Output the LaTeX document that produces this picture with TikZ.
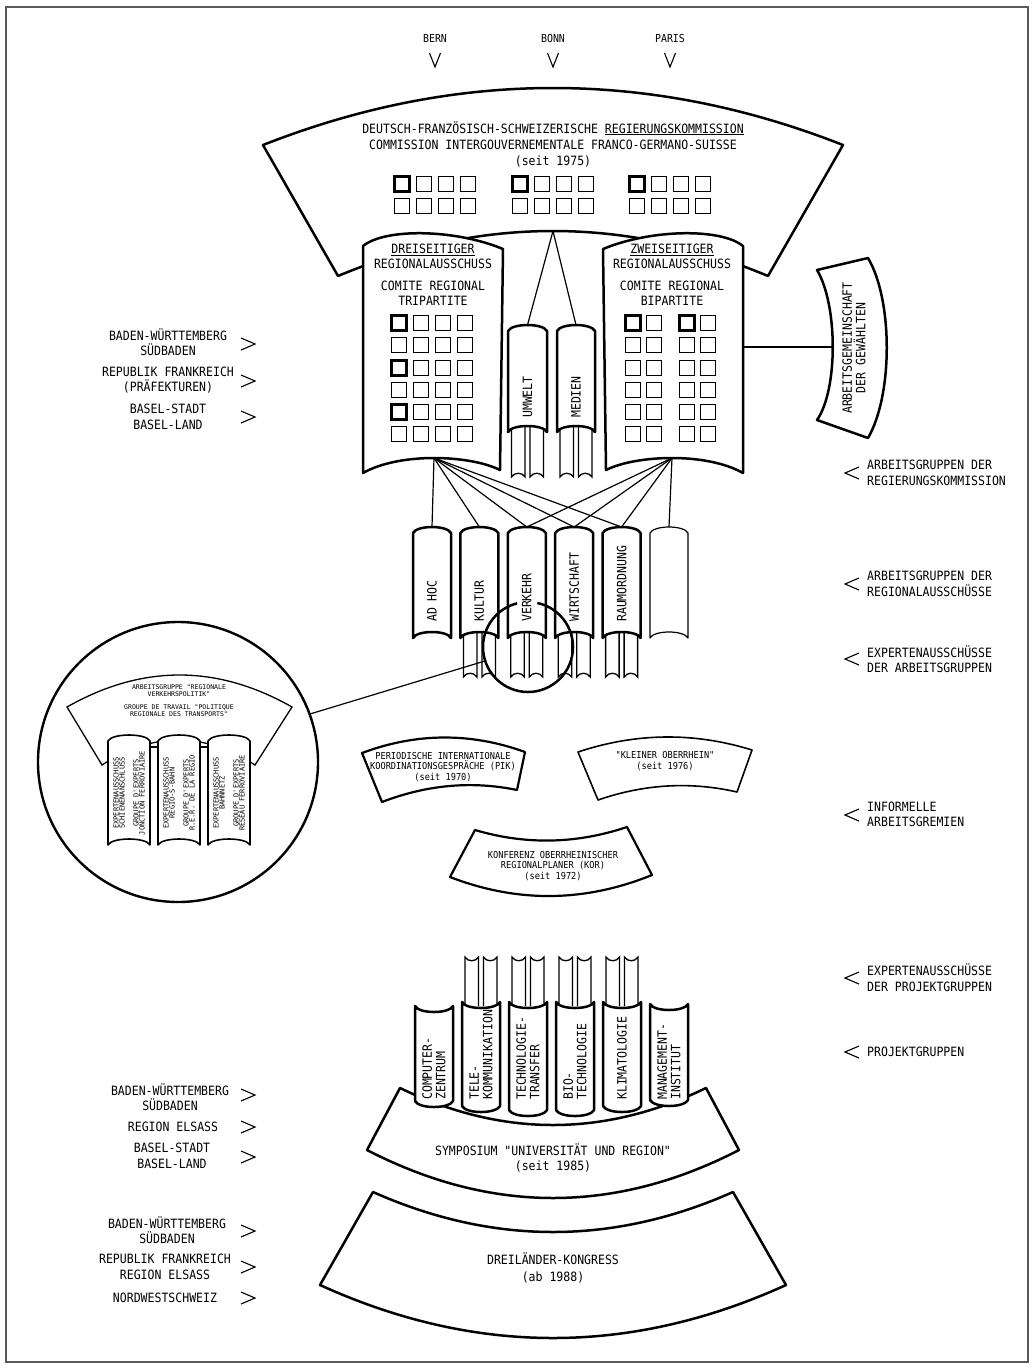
\documentclass[tikz,border=0pt]{standalone}
\usepackage{fontspec}
\newfontfamily\lab[FakeStretch=0.9]{DejaVu Sans Mono}
\newfontfamily\labw{DejaVu Sans Mono}
\newcommand\arcto[5]{.. controls ({#1+(#3-#1)/3},{#2+(#4-#2)/3-4*(#5)/3}) and ({#1+2*(#3-#1)/3},{#2+2*(#4-#2)/3-4*(#5)/3}) .. (#3,#4)}
\newcommand\pillar[5][]{\draw[pil,#1] (#2,{#4+6}) .. controls ({#2+4},{#4-2}) and ({#3-4},{#4-2}) .. (#3,{#4+6}) -- (#3,#5) .. controls ({#3-4},{#5-8}) and ({#2+4},{#5-8}) .. (#2,#5) -- cycle;}
\newcommand\pillarb[5][]{\draw[pil,#1] (#2,#4) .. controls ({#2+4},{#4+8}) and ({#3-4},{#4+8}) .. (#3,#4) -- (#3,#5) .. controls ({#3-4},{#5+8}) and ({#2+4},{#5+8}) .. (#2,#5) -- cycle;}
\newcommand\legd[4]{\draw[leg] (#1,#3) -- (#1,#4) .. controls ({#1+3},{#4-5}) and ({#2-3},{#4-5}) .. (#2,#4) -- (#2,#3);}
\newcommand\legu[4]{\draw[leg] (#1,#4) -- (#1,#3) .. controls ({#1+3},{#3+5}) and ({#2-3},{#3+5}) .. (#2,#3) -- (#2,#4);}
\newcommand\legdpair[3]{\legd{#1-16}{#1-2.5}{#2}{#3}\legd{#1+2.5}{#1+16}{#2}{#3}}
\newcommand\legupair[3]{\legu{#1-16}{#1-2.5}{#2}{#3}\legu{#1+2.5}{#1+16}{#2}{#3}}
\newcommand\sq[3][sqn]{\draw[#1] ({#2-7.5},{#3-7.5}) rectangle ({#2+7.5},{#3+7.5});}
\newcommand\markgt[2]{\draw[mk] ({#1-7},{#2-6}) -- ({#1+7},#2) -- ({#1-7},{#2+6});}
\newcommand\marklt[2]{\draw[mk] ({#1+7},{#2-6}) -- ({#1-7},#2) -- ({#1+7},{#2+6});}
\newcommand\markv[2]{\draw[mk] ({#1-5.5},#2) -- (#1,{#2+14}) -- ({#1+5.5},#2);}
\tikzset{
 fanst/.style={draw=black, fill=white, line width=2.5pt, line join=round},
 pil/.style={draw=black, fill=white, line width=2.5pt, line join=round},
 leg/.style={draw=black, line width=1.3pt},
 conn/.style={draw=black, line width=1.2pt},
 sqn/.style={draw=black, line width=1.2pt},
 sqb/.style={draw=black, line width=2.8pt},
 mk/.style={draw=black, line width=1.1pt},
 lab/.style={font={\lab\fontsize{12.8}{15.5}\selectfont}, inner sep=0pt, align=center},
 labm/.style={font={\lab\fontsize{11}{13}\selectfont}, inner sep=0pt, align=center},
 labs/.style={font={\lab\fontsize{9.6}{10.5}\selectfont}, inner sep=0pt, align=center},
 labt/.style={font={\labw\fontsize{6.5}{7}\selectfont}, inner sep=0pt, align=center},
 labp/.style={font={\labw\fontsize{7}{6}\selectfont}, inner sep=0pt, align=center},
 rot/.style={rotate=90, anchor=west, align=left}
}
\begin{document}
\begin{tikzpicture}[x=1pt,y=-1pt]
\useasboundingbox (0,0) rectangle (1035,1369);
\draw[draw=black!65, line width=1.4pt] (6,7) rectangle (1028,1362);

% cities
\node[labm] (bern) at (435,38) {BERN};
\node[labm] (bonn) at (553,38) {BONN};
\node[labm] (paris) at (670,38) {PARIS};
\markv{435}{53}\markv{553}{53}\markv{670}{53}

% Regierungskommission
\draw[fanst] (263,145) \arcto{263}{145}{843}{145}{57} -- (768,276) \arcto{768}{276}{338}{276}{45} -- cycle;
\node[lab, font={\lab\fontsize{12.8}{16}\selectfont}] (komm) at (553,144) {DEUTSCH-FRANZÖSISCH-SCHWEIZERISCHE \underline{REGIERUNGSKOMMISSION}\\COMMISSION INTERGOUVERNEMENTALE FRANCO-GERMANO-SUISSE\\(seit 1975)};
\foreach \gx in {402,520,637} {
  \foreach \i in {0,1,2,3} { \sq{\gx+22*\i}{184} \sq{\gx+22*\i}{206} }
  \sq[sqb]{\gx}{184}
}
\coordinate (kommB) at (553,231);
\coordinate (umT) at (527.5,325);
\coordinate (meT) at (576,325);
\draw[conn] (kommB) -- (umT);
\draw[conn] (kommB) -- (meT);
\legdpair{527.5}{425}{477}
\legdpair{576}{425}{477}
\pillar{508}{547}{325}{432}
\pillar{557}{595}{325}{432}
\node[lab, rot] (umwelt) at (527.5,418) {UMWELT};
\node[lab, rot] (medien) at (576,418) {MEDIEN};

% regional committees
\draw[fanst] (363,246) .. controls (385,228) and (455,229) .. (503,249) -- (500,470) .. controls (470,455) and (400,452) .. (363,473) -- cycle;
\draw[fanst] (743,246) .. controls (721,228) and (651,229) .. (603,249) -- (606,470) .. controls (636,455) and (706,452) .. (743,473) -- cycle;
\node[lab] (dreiA) at (433,256.5) {\underline{DREISEITIGER}\\REGIONALAUSSCHUSS};
\node[lab] (dreiB) at (433,293) {COMITE REGIONAL\\TRIPARTITE};
\node[lab] (zweiA) at (672,256.5) {\underline{ZWEISEITIGER}\\REGIONALAUSSCHUSS};
\node[lab] (zweiB) at (672,293) {COMITE REGIONAL\\BIPARTITE};
\foreach \y in {323,345,368,390,412,434} {
  \foreach \x in {399,421,443,465} { \sq{\x}{\y} }
  \foreach \x in {633,654,687,708} { \sq{\x}{\y} }
}
\sq[sqb]{399}{323}\sq[sqb]{399}{368}\sq[sqb]{399}{412}
\sq[sqb]{633}{323}\sq[sqb]{687}{323}

% Arbeitsgemeinschaft der Gewaehlten
\coordinate (zweiR) at (743,347);
\coordinate (agL) at (833,347);
\draw[conn] (zweiR) -- (agL);
\draw[fanst] (817,270) -- (868,258) .. controls (893,300) and (893,395) .. (868,438) -- (817,420) .. controls (838,390) and (838,305) .. (817,270) -- cycle;
\node[lab, rotate=90, font={\lab\fontsize{12.8}{13.5}\selectfont}] (ag) at (854,348) {ARBEITSGEMEINSCHAFT\\DER GEWÄHLTEN};

% working groups
\coordinate (dreiB0) at (434,458);
\coordinate (zweiB0) at (672,458);
\foreach \i/\c in {1/432,2/479.4,3/526.8,4/574.2,5/621.6,6/669} { \coordinate (wg\i) at (\c,527); }
\foreach \i in {1,...,5} { \draw[conn] (dreiB0) -- (wg\i); }
\foreach \i in {3,...,6} { \draw[conn] (zweiB0) -- (wg\i); }
\legdpair{479.4}{630}{677}
\legdpair{526.8}{630}{677}
\legdpair{574.2}{630}{677}
\legdpair{621.6}{630}{677}
\pillar{413}{451}{527}{638}
\pillar{460.4}{498.4}{527}{638}
\pillar{507.8}{545.8}{527}{638}
\pillar{555.2}{593.2}{527}{638}
\pillar{602.6}{640.6}{527}{638}
\pillar[line width=1.2pt]{650}{688}{527}{638}
\node[lab, rot] (adhoc) at (432,622) {AD HOC};
\node[lab, rot] (kultur) at (479.4,622) {KULTUR};
\node[lab, rot] (verkehr) at (526.8,622) {VERKEHR};
\node[lab, rot] (wirtschaft) at (574.2,622) {WIRTSCHAFT};
\node[lab, rot] (raum) at (621.6,622) {RAUMORDNUNG};

% magnifier
\draw[line width=2.5pt] ([shift={(528,647)}]-78:45) arc[start angle=-78, end angle=256, radius=45];
\coordinate (lensL) at ([shift={(528,647)}]162:45);
\coordinate (zoomR) at ([shift={(178,762)}]-20:140);
\draw[conn] (lensL) -- (zoomR);
\draw[line width=2.4pt] (178,762) circle[radius=140];
\draw[fill=white, line width=1.3pt] (67,707) \arcto{67}{707}{292}{707}{32} -- (255,765) \arcto{255}{765}{102}{765}{25} -- cycle;
\node[labt] (insetT) at (179,700.5) {ARBEITSGRUPPE "REGIONALE\\VERKEHRSPOLITIK"\\[6pt]GROUPE DE TRAVAIL "POLITIQUE\\REGIONALE DES TRANSPORTS"};
\coordinate (ip1) at (150,747); \coordinate (ip2) at (158,747);
\coordinate (ip3) at (200,747); \coordinate (ip4) at (208,747);
\draw[line width=1.2pt] (ip1) -- (ip2);
\draw[line width=1.2pt] (ip3) -- (ip4);
\pillar[line width=1.6pt]{108}{150}{735}{845}
\pillar[line width=1.6pt]{158}{200}{735}{845}
\pillar[line width=1.6pt]{208}{250}{735}{845}
\node[labp, rotate=90] (ex1) at (129,793) {EXPERTENAUSSCHUSS\\SCHIENENANSCHLUSS\\[8pt]GROUPE D'EXPERTS\\JONCTION FERROVIAIRE};
\node[labp, rotate=90] (ex2) at (179,793) {EXPERTENAUSSCHUSS\\REGIO-S-BAHN\\[8pt]GROUPE D'EXPERTS\\R.E.R. DE LA REGIO};
\node[labp, rotate=90] (ex3) at (229,793) {EXPERTENAUSSCHUSS\\BAHNNETZ\\[8pt]GROUPE D'EXPERTS\\RESEAU FERROVIAIRE};

% informal bodies
\draw[fanst, line width=2.2pt] (362,753) \arcto{362}{753}{525}{752}{15} -- (517,790) \arcto{517}{790}{382}{802}{10} -- cycle;
\node[labs] (pik) at (443,767) {PERIODISCHE INTERNATIONALE\\KOORDINATIONSGESPRÄCHE (PIK)\\(seit 1970)};
\draw[fanst, line width=1.6pt] (578,752) \arcto{578}{752}{752}{750}{14} -- (737,792) \arcto{737}{792}{598}{800}{10} -- cycle;
\node[labs] (kleiner) at (665,761) {"KLEINER OBERRHEIN"\\(seit 1976)};
\draw[fanst, line width=2.2pt] (475,830) \arcto{475}{830}{627}{827}{-12} -- (652,875) \arcto{652}{875}{450}{877}{-20} -- cycle;
\node[labs] (kor) at (553,866) {KONFERENZ OBERRHEINISCHER\\REGIONALPLANER (KOR)\\(seit 1972)};

% symposium and project groups
\draw[fanst] (400,1088) \arcto{400}{1088}{706}{1088}{-37} -- (739,1150) \arcto{739}{1150}{367}{1150}{-48} -- cycle;
\node[lab] (symp) at (553,1158) {SYMPOSIUM "UNIVERSITÄT UND REGION"\\(seit 1985)};
\legupair{481}{957}{1006}
\legupair{528}{957}{1006}
\legupair{575}{957}{1006}
\legupair{622}{957}{1006}
\pillarb{415}{453}{1006}{1101}
\pillarb{462}{500}{1002}{1106}
\pillarb{509}{547}{1002}{1110}
\pillarb{556}{594}{1002}{1110}
\pillarb{603}{641}{1002}{1106}
\pillarb{650}{688}{1004}{1100}
\node[lab, rot, font={\lab\fontsize{12.8}{13.5}\selectfont}] (comp) at (434,1100) {COMPUTER-\\ZENTRUM};
\node[lab, rot, font={\lab\fontsize{12.8}{13.5}\selectfont}] (tele) at (481,1100) {TELE-\\KOMMUNIKATION};
\node[lab, rot, font={\lab\fontsize{12.8}{13.5}\selectfont}] (techno) at (528,1100) {TECHNOLOGIE-\\TRANSFER};
\node[lab, rot, font={\lab\fontsize{12.8}{13.5}\selectfont}] (bio) at (575,1100) {BIO-\\TECHNOLOGIE};
\node[lab, rot] (klima) at (622,1100) {KLIMATOLOGIE};
\node[lab, rot, font={\lab\fontsize{12.8}{13.5}\selectfont}] (mgmt) at (669,1100) {MANAGEMENT-\\INSTITUT};

% Dreilaender-Kongress
\draw[fanst] (373,1192) \arcto{373}{1192}{733}{1192}{-40} -- (786,1285) \arcto{786}{1285}{320}{1285}{-53} -- cycle;
\node[lab, font={\lab\fontsize{12.8}{17}\selectfont}] (kongress) at (553,1268) {DREILÄNDER-KONGRESS\\(ab 1988)};

% left labels
\node[lab] (l1) at (168,342) {BADEN-WÜRTTEMBERG\\SÜDBADEN};
\node[lab] (l2) at (168,380) {REPUBLIK FRANKREICH\\(PRÄFEKTUREN)};
\node[lab] (l3) at (168,417) {BASEL-STADT\\BASEL-LAND};
\markgt{248}{344}\markgt{248}{381}\markgt{248}{417}
\node[lab] (l4) at (170,1097) {BADEN-WÜRTTEMBERG\\SÜDBADEN};
\node[lab] (l5) at (173,1127) {REGION ELSASS};
\node[lab] (l6) at (172,1156) {BASEL-STADT\\BASEL-LAND};
\markgt{248}{1095}\markgt{248}{1127}\markgt{248}{1157}
\node[lab] (l7) at (167,1230) {BADEN-WÜRTTEMBERG\\SÜDBADEN};
\node[lab] (l8) at (165,1267) {REPUBLIK FRANKREICH\\REGION ELSASS};
\node[lab] (l9) at (165,1298) {NORDWESTSCHWEIZ};
\markgt{248}{1231}\markgt{248}{1267}\markgt{248}{1298}

% right labels
\node[lab, anchor=west, align=left] (r1) at (867,473) {ARBEITSGRUPPEN DER\\REGIERUNGSKOMMISSION};
\node[lab, anchor=west, align=left] (r2) at (867,584) {ARBEITSGRUPPEN DER\\REGIONALAUSSCHÜSSE};
\node[lab, anchor=west, align=left] (r3) at (867,659) {EXPERTENAUSSCHÜSSE\\DER ARBEITSGRUPPEN};
\node[lab, anchor=west, align=left] (r4) at (867,814.5) {INFORMELLE\\ARBEITSGREMIEN};
\node[lab, anchor=west, align=left] (r5) at (867,977.5) {EXPERTENAUSSCHÜSSE\\DER PROJEKTGRUPPEN};
\node[lab, anchor=west, align=left] (r6) at (867,1052) {PROJEKTGRUPPEN};
\marklt{852}{473}\marklt{852}{584}\marklt{852}{659}\marklt{852}{815}\marklt{852}{978}\marklt{852}{1052}
\end{tikzpicture}
\end{document}
